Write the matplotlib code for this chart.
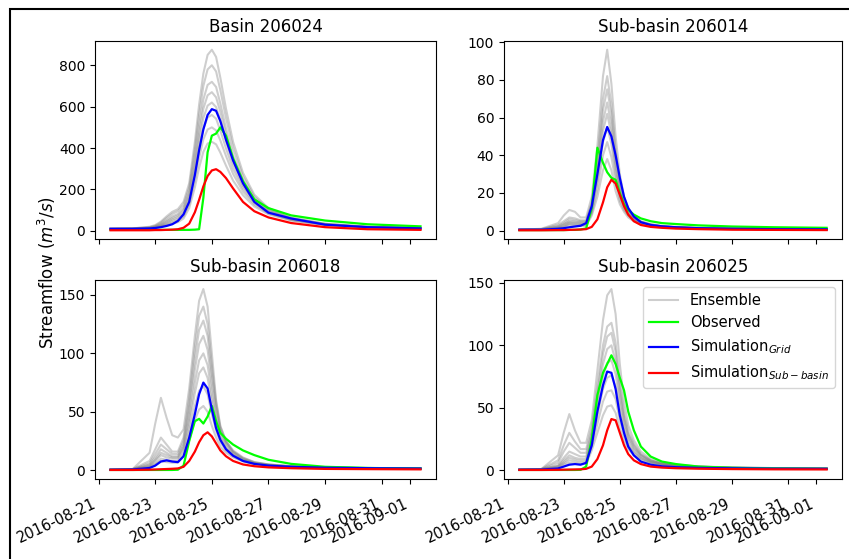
import pandas
import matplotlib
matplotlib.use("Agg")
import matplotlib.pyplot as plt
from matplotlib.patches import Rectangle
from matplotlib.ticker import MultipleLocator

# sample times, in days after 2016-08-21 00:00
DAYS = [0.42, 1.2, 1.8, 2.0, 2.2, 2.4, 2.6, 2.8, 3.0, 3.2, 3.4, 3.55, 3.7, 3.85, 4.0, 4.15, 4.3,
        4.5, 4.75, 5.1, 5.5, 6.0, 6.8, 8.0, 9.5, 11.37]

TITLES = ["Basin 206024", "Sub-basin 206014", "Sub-basin 206018", "Sub-basin 206025"]
YSTEP = [200, 20, 50, 50]

# ---- Basin 206024
ENS_206024 = [
    [10, 12, 20, 28, 45, 70, 92, 105, 140, 230, 430, 610, 760, 850, 875, 840, 740, 590, 430, 280, 175, 110, 65, 35, 20, 14],
    [10, 12, 18, 25, 40, 62, 82, 95, 125, 210, 395, 560, 700, 780, 800, 770, 680, 545, 400, 262, 165, 105, 62, 34, 20, 14],
    [10, 11, 16, 22, 34, 52, 70, 82, 110, 190, 360, 510, 635, 705, 720, 695, 615, 495, 365, 242, 155, 100, 60, 33, 19, 13],
    [10, 11, 15, 20, 30, 46, 62, 74, 100, 175, 330, 470, 590, 655, 670, 645, 575, 465, 345, 230, 148, 96, 58, 32, 19, 13],
    [10, 11, 14, 19, 27, 40, 55, 66, 90, 160, 305, 435, 545, 605, 620, 598, 535, 435, 325, 218, 142, 92, 56, 31, 18, 13],
    [10, 11, 14, 18, 24, 35, 48, 58, 80, 145, 275, 395, 495, 548, 560, 542, 485, 398, 300, 205, 135, 88, 54, 30, 18, 12],
    [10, 10, 13, 16, 22, 30, 40, 50, 70, 128, 245, 352, 442, 490, 500, 485, 437, 362, 275, 190, 127, 84, 52, 29, 17, 12],
    [10, 10, 12, 15, 20, 26, 34, 42, 60, 110, 210, 305, 382, 422, 430, 418, 378, 315, 243, 172, 118, 80, 50, 28, 17, 12],
]
OBS_206024 = [5, 5, 5, 5, 5, 5, 5, 5, 5, 5, 6, 8, 160, 380, 460, 470, 500, 460, 350, 240, 152, 110, 75, 50, 32, 22]
GRID_206024 = [10, 10, 12, 14, 18, 24, 32, 48, 80, 140, 270, 390, 490, 560, 588, 580, 530, 440, 340, 230, 140, 88, 60, 30, 18, 12]
SUB_206024 = [3, 3, 3, 4, 4, 5, 6, 8, 15, 35, 90, 150, 215, 265, 292, 298, 285, 255, 205, 140, 95, 65, 38, 18, 8, 5]

# ---- Sub-basin 206014
ENS_206014 = [
    [0.5, 1, 4, 8, 11, 10, 7, 7, 18, 45, 82, 96, 78, 50, 30, 18, 12, 8, 5, 3.5, 2.5, 2, 1.5, 1.2, 1, 0.8],
    [0.5, 0.8, 3, 5, 7, 6.5, 5.5, 5.5, 15, 38, 70, 82, 67, 43, 26, 16, 11, 7.5, 4.8, 3.3, 2.4, 1.9, 1.4, 1.1, 0.9, 0.8],
    [0.5, 0.8, 2.5, 4, 6, 5.5, 5, 5, 14, 35, 64, 75, 62, 40, 24, 15, 10, 7, 4.6, 3.2, 2.3, 1.8, 1.4, 1.1, 0.9, 0.8],
    [0.5, 0.7, 2, 3.5, 5, 4.8, 4.5, 4.5, 12, 32, 58, 68, 56, 36, 22, 14, 9.5, 6.5, 4.4, 3.1, 2.2, 1.8, 1.3, 1, 0.9, 0.7],
    [0.5, 0.7, 1.8, 3, 4.5, 4.2, 4, 4, 11, 29, 53, 62, 51, 33, 20, 13, 9, 6.2, 4.2, 3, 2.2, 1.7, 1.3, 1, 0.8, 0.7],
    [0.5, 0.7, 1.5, 2.5, 4, 3.8, 3.5, 3.5, 10, 26, 47, 55, 46, 30, 18, 12, 8.5, 6, 4, 2.9, 2.1, 1.7, 1.3, 1, 0.8, 0.7],
    [0.5, 0.6, 1.3, 2, 3.5, 3.2, 3, 3, 9, 22, 40, 47, 39, 26, 16, 11, 8, 5.5, 3.8, 2.8, 2, 1.6, 1.2, 1, 0.8, 0.7],
    [0.5, 0.6, 1.2, 1.8, 3, 2.8, 2.5, 2.5, 8, 18, 32, 38, 32, 21, 14, 10, 7, 5, 3.6, 2.7, 2, 1.6, 1.2, 0.9, 0.8, 0.7],
]
OBS_206014 = [0.3, 0.3, 0.3, 0.3, 0.4, 0.4, 0.6, 1.2, 12, 44, 36, 31, 28, 27, 20, 14, 11, 8.5, 6.5, 5, 4, 3.5, 2.8, 2.2, 1.8, 1.5]
GRID_206014 = [0.5, 0.5, 1, 1.3, 1.8, 2.2, 2.6, 4, 13, 30, 48, 55, 50, 40, 28, 18, 12, 7.5, 4.5, 3, 2.3, 1.8, 1.3, 1, 0.8, 0.7]
SUB_206014 = [0.2, 0.2, 0.3, 0.3, 0.4, 0.5, 0.6, 0.8, 2, 6, 15, 23, 27, 25, 19, 13, 8.5, 5, 3, 2, 1.5, 1.1, 0.8, 0.5, 0.4, 0.3]

# ---- Sub-basin 206018
ENS_206018 = [
    [0.5, 1, 15, 40, 62, 45, 30, 28, 35, 70, 115, 145, 155, 140, 100, 60, 38, 25, 17, 11, 7, 5, 3.5, 2.5, 2, 1.5],
    [0.5, 1, 8, 18, 28, 22, 16, 16, 28, 62, 105, 132, 140, 125, 90, 58, 37, 25, 16, 10.5, 7, 5, 3.5, 2.5, 2, 1.5],
    [0.5, 1, 6, 14, 22, 18, 14, 14, 25, 56, 96, 120, 128, 115, 82, 54, 35, 24, 16, 10, 6.5, 4.8, 3.4, 2.4, 1.9, 1.5],
    [0.5, 0.9, 5, 11, 18, 15, 12, 12, 22, 50, 86, 108, 115, 103, 74, 49, 33, 23, 15, 9.5, 6.2, 4.6, 3.3, 2.3, 1.9, 1.5],
    [0.5, 0.9, 4, 9, 15, 13, 11, 11, 20, 44, 75, 94, 100, 90, 65, 44, 30, 21, 14, 9, 6, 4.5, 3.2, 2.3, 1.8, 1.5],
    [0.5, 0.8, 3.5, 8, 13, 11, 10, 10, 18, 39, 66, 83, 88, 79, 58, 40, 28, 19, 13, 8.5, 5.8, 4.3, 3.1, 2.2, 1.8, 1.5],
    [0.5, 0.8, 3, 6, 10, 9, 8, 8, 15, 33, 55, 68, 72, 65, 48, 34, 24, 17, 12, 8, 5.5, 4.1, 3, 2.2, 1.8, 1.5],
    [0.5, 0.7, 2.5, 5, 8, 7, 6.5, 6.5, 12, 26, 43, 52, 55, 50, 38, 28, 20, 15, 11, 7.5, 5.2, 4, 2.9, 2.1, 1.7, 1.4],
]
OBS_206018 = [0.3, 0.3, 0.3, 0.3, 0.3, 0.3, 0.3, 0.5, 4, 25, 42, 44, 40, 46, 55, 42, 32, 27, 22, 17, 13, 9, 5.5, 3, 2, 1.5]
GRID_206018 = [0.5, 0.7, 2, 4, 7.5, 8.5, 7.5, 7, 12, 28, 48, 65, 75, 70, 52, 36, 26, 18, 12.5, 8, 5.5, 4, 3, 2.2, 1.8, 1.5]
SUB_206018 = [0.3, 0.3, 0.5, 0.7, 0.9, 1.1, 1.3, 1.6, 3, 8, 16, 24, 30, 32.5, 29, 23, 17, 12, 8, 5, 3.5, 2.5, 1.8, 1.2, 1, 0.8]

# ---- Sub-basin 206025
ENS_206025 = [
    [0.5, 1, 12, 30, 45, 32, 22, 22, 40, 80, 120, 140, 145, 125, 85, 55, 36, 24, 15, 9, 6, 4.5, 3.2, 2.3, 1.8, 1.5],
    [0.5, 1, 8, 20, 30, 23, 17, 17, 34, 68, 100, 115, 118, 102, 70, 46, 31, 21, 13, 8, 5.5, 4.2, 3, 2.2, 1.8, 1.5],
    [0.5, 0.9, 6, 15, 22, 18, 14, 14, 31, 62, 93, 107, 110, 95, 66, 43, 29, 20, 12.5, 7.8, 5.3, 4, 2.9, 2.1, 1.7, 1.4],
    [0.5, 0.9, 4, 10, 15, 13, 11, 11, 28, 56, 85, 97, 100, 87, 60, 40, 27, 18, 12, 7.5, 5.2, 3.9, 2.8, 2.1, 1.7, 1.4],
    [0.5, 0.8, 3.5, 8, 12, 10, 9, 9, 25, 50, 75, 86, 88, 77, 54, 36, 25, 17, 11, 7, 5, 3.8, 2.7, 2, 1.6, 1.4],
    [0.5, 0.8, 3, 6.5, 10, 8.5, 7.5, 7.5, 22, 44, 65, 74, 76, 67, 47, 32, 22, 15, 10, 6.5, 4.7, 3.6, 2.6, 1.9, 1.6, 1.3],
    [0.5, 0.7, 2.5, 5.5, 8, 7, 6, 6, 19, 37, 55, 63, 64, 57, 40, 28, 20, 14, 9.5, 6.2, 4.5, 3.5, 2.5, 1.9, 1.5, 1.3],
    [0.5, 0.7, 2, 4.5, 6, 5.5, 5, 5, 16, 30, 44, 51, 52, 46, 33, 24, 17, 12, 8.5, 5.8, 4.3, 3.3, 2.4, 1.8, 1.5, 1.3],
]
OBS_206025 = [0.3, 0.3, 0.3, 0.3, 0.3, 0.3, 0.4, 3, 25, 60, 78, 85, 92, 85, 74, 64, 47, 32, 19, 11, 7, 5, 3, 2, 1.5, 1.2]
GRID_206025 = [0.5, 0.6, 1.5, 3, 4.5, 5, 4.5, 6, 20, 47, 68, 79, 78, 65, 44, 30, 19, 12, 7, 4.5, 3.2, 2.5, 2, 1.6, 1.3, 1.2]
SUB_206025 = [0.3, 0.3, 0.4, 0.5, 0.6, 0.7, 0.8, 1.2, 3, 9, 20, 32, 41, 40, 30, 20, 13, 8, 5, 3, 2.2, 1.7, 1.3, 1, 0.8, 0.7]

ENSEMBLES = [ENS_206024, ENS_206014, ENS_206018, ENS_206025]
OBSERVED = [OBS_206024, OBS_206014, OBS_206018, OBS_206025]
SIM_GRID = [GRID_206024, GRID_206014, GRID_206018, GRID_206025]
SIM_SUB = [SUB_206024, SUB_206014, SUB_206018, SUB_206025]

W, H = 849, 559
# axes boxes in pixels: left, top, right, bottom
BOXES = [(95, 40.7, 436, 239.3), (504, 40.7, 842, 239.3),
         (95, 280, 436, 479), (504, 280, 842, 479)]


def plot_panels():
    times = pandas.Timestamp("2016-08-21") + pandas.to_timedelta(DAYS, unit="D")
    fig = plt.figure(figsize=(W / 100, H / 100), dpi=100)

    axes = []
    for i in range(4):
        l, t, r, b = BOXES[i]
        ax = fig.add_axes([l / W, (H - b) / H, (r - l) / W, (b - t) / H])
        for m, member in enumerate(ENSEMBLES[i]):
            ax.plot(times, member, color="grey", alpha=0.38, lw=1.5,
                    label="Ensemble" if m == 0 else None)
        ax.plot(times, OBSERVED[i], color="lime", lw=1.6, label="Observed")
        ax.plot(times, SIM_GRID[i], color="blue", lw=1.6, label=r"Simulation$_{Grid}$")
        ax.plot(times, SIM_SUB[i], color="red", lw=1.6, label=r"Simulation$_{Sub-basin}$")
        ax.set_title(TITLES[i], fontsize=12)
        ax.yaxis.set_major_locator(MultipleLocator(YSTEP[i]))
        ax.tick_params(labelsize=10)
        axes.append(ax)

    xlim = axes[0].get_xlim()
    for i, ax in enumerate(axes):
        ax.set_xlim(xlim)
        if i < 2:
            ax.tick_params(labelbottom=False)
        else:
            ax.tick_params(axis="x", pad=9, labelsize=10.5)
            for lab in ax.get_xticklabels():
                lab.set_rotation(25)
                lab.set_ha("right")

    axes[3].legend(loc="upper right", fontsize=10.5)
    fig.text(0.055, 0.513, r"Streamflow ($m^3/s$)", rotation=90, fontsize=12,
             ha="center", va="center")

    # frame around the figure, cut off at right and bottom
    fig.add_artist(Rectangle((10 / W, -0.1), 1.2, 1.1 - 8.5 / H, transform=fig.transFigure,
                             fill=False, ec="black", lw=1.5, clip_on=False))
    fig.savefig("out.png", dpi=100)


if __name__ == '__main__':
    plot_panels()
